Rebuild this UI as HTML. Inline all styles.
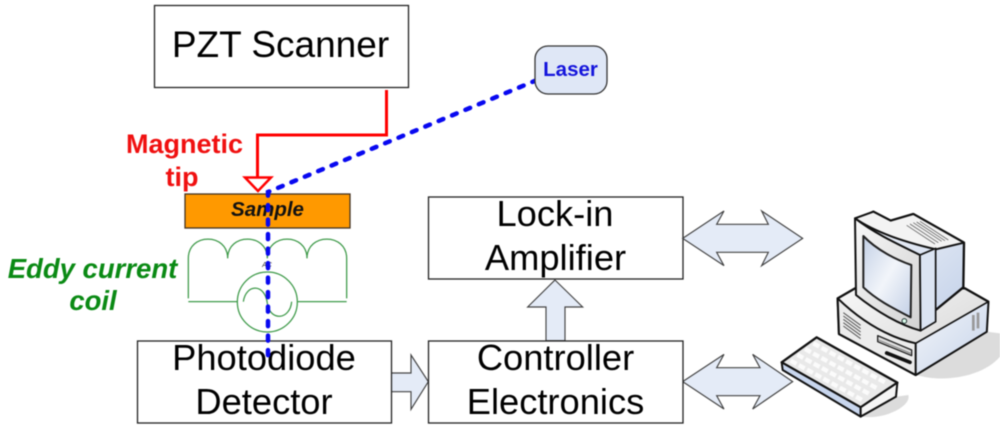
<!DOCTYPE html>
<html>
<head>
<meta charset="utf-8">
<style>
html,body{margin:0;padding:0;background:#fff}
svg{display:block;filter:blur(.4px)}
text{font-family:"Liberation Sans",sans-serif}
</style>
</head>
<body>
<svg width="1000" height="430" viewBox="0 0 1000 430" xmlns="http://www.w3.org/2000/svg">
<defs>
<linearGradient id="scr" x1="0" y1="0" x2="1" y2="1"><stop offset="0" stop-color="#c3d0e6"/><stop offset=".5" stop-color="#f2f5fa"/><stop offset="1" stop-color="#c3d0e6"/></linearGradient>
<linearGradient id="bl" x1="0" y1="0" x2="1" y2="1"><stop offset="0" stop-color="#f4f6fa"/><stop offset="1" stop-color="#c5d3ea"/></linearGradient>
<linearGradient id="gr" x1="0" y1="0" x2="1" y2="1"><stop offset="0" stop-color="#f8f8f8"/><stop offset="1" stop-color="#d2d2d2"/></linearGradient>
</defs>

<!-- boxes -->
<g fill="#fff" stroke="#222" stroke-width="1.3">
<rect x="154.500" y="5.500" width="254" height="82"/>
<rect x="428.500" y="197" width="254.500" height="82"/>
</g>

<!-- block arrows -->
<g transform="translate(380,200) scale(.33333)" fill="#e4ebf7" stroke="#444" stroke-width="3.500" stroke-linejoin="miter">
<polygon points="908,115 1032,33 1010,73 1165,73 1145,33 1268,115 1145,197 1165,157 1010,157 1032,197"/>
<polygon points="908,545 1032,463 1010,503 1140,503 1118,463 1238,545 1118,627 1140,587 1010,587 1032,627"/>
<polygon points="525,240 608,321 555,321 555,422 498,422 498,321 443,321"/>
<polygon points="32,519 93,519 93,465 145,545 93,628 93,575 32,575"/>
</g>

<g fill="#fff" stroke="#222" stroke-width="1.3">
<rect x="137.500" y="341" width="254" height="82"/>
<rect x="428.500" y="341" width="254.500" height="82"/>
</g>

<!-- box labels -->
<text x="280.500" y="57" font-size="37" fill="#000" text-anchor="middle">PZT Scanner</text>
<g font-size="36.300" fill="#000" text-anchor="middle">
<text x="555" y="226">Lock-in</text>
<text x="555.500" y="270">Amplifier</text>
<text x="264" y="370">Photodiode</text>
<text x="264" y="414">Detector</text>
<text x="555.500" y="370">Controller</text>
<text x="555.500" y="414">Electronics</text>
</g>

<!-- red tip -->
<path d="M386.500,90 V135 H257.500 V177" fill="none" stroke="#f00" stroke-width="3"/>
<polygon points="245,177.500 271,177.500 258,191" fill="#fff" stroke="#f00" stroke-width="2.500"/>
<g font-size="27" font-weight="bold" fill="#f01010" text-anchor="middle">
<text x="184.500" y="153">Magnetic</text>
<text x="182" y="186">tip</text>
</g>

<!-- sample -->
<rect x="185" y="194" width="165" height="34" fill="#ff9900" stroke="#443322" stroke-width="1.300"/>
<text x="267.500" y="216" font-size="20.500" font-weight="bold" font-style="italic" fill="#111" text-anchor="middle">Sample</text>

<!-- coil -->
<g transform="translate(120,120) scale(.33333)" fill="none" stroke="#3f9a4a" stroke-width="3.800">
<path d="M205,535 V415 C205,338 323,338 323,415 C323,338 442,338 442,415 C442,338 561,338 561,415 C561,338 680,338 680,415 V535"/>
<path d="M205,545 H352 M532,545 H680"/>
<circle cx="442" cy="546" r="90"/>
<path d="M370,545 C378,490 435,490 442,550 C450,605 510,600 515,545"/>
</g>
<text x="267" y="267" font-size="7" font-style="italic" fill="#333" text-anchor="middle">AC</text>

<!-- laser -->
<path d="M537,80 L268,192 V356" fill="none" stroke="#0808f0" stroke-width="4.500" stroke-dasharray="5 9.500" stroke-linecap="round"/>
<rect x="535" y="46" width="72" height="48" rx="13" fill="#dfe7f6" stroke="#333" stroke-width="1.300"/>
<text x="570.500" y="76" font-size="20.500" font-weight="bold" fill="#1414dc" text-anchor="middle">Laser</text>

<!-- eddy -->
<g font-size="27.500" font-weight="bold" font-style="italic" fill="#0a8a14" text-anchor="middle">
<text x="92.500" y="278">Eddy current</text>
<text x="93" y="310">coil</text>
</g>

<!-- computer -->
<g transform="translate(770,200) scale(.33333)" stroke-linejoin="round">
<path d="M440,525 L650,395 L690,400 V470 C640,530 520,550 440,525Z" fill="#dcdcdc"/>
<path d="M275,650 L380,590 L415,585 C425,620 340,660 275,650Z" fill="#dcdcdc"/>
<!-- base -->
<path d="M203,295 L255,265 L585,265 L655,305 L650,395 L437,525 L207,402Z" fill="url(#gr)" stroke="#111" stroke-width="7"/>
<path d="M437,430 L655,305 L650,395 L437,525Z" fill="url(#bl)" stroke="#111" stroke-width="5"/>
<path d="M203,295 C270,360 350,410 437,430 L437,525 L207,402Z" fill="#ececec" stroke="#111" stroke-width="6"/>
<g stroke="#555" stroke-width="3" fill="none">
<path d="M220,338 L272,376 M220,348 L272,386 M220,358 L272,396 M220,368 L272,406 M220,378 L272,416"/>
</g>
<polygon points="323,407 425,450 425,467 323,425" fill="#ddd" stroke="#222" stroke-width="4"/>
<path d="M326,420 L422,460" stroke="#555" stroke-width="2"/>
<path d="M350,459 L420,487" stroke="#111" stroke-width="11" stroke-linecap="round"/>
<path d="M610,345 V392 M624,338 V385" stroke="#999" stroke-width="8"/>
<!-- monitor -->
<path d="M310,35 L362,62 L430,42 L582,128 L580,262 L497,330 L450,300 L260,60Z" fill="url(#bl)" stroke="#111" stroke-width="7"/>
<path d="M255,55 L310,35 L362,62 L430,42 L582,128 L498,148 C420,130 320,100 255,55Z" fill="#f3f3f3" stroke="#111" stroke-width="6"/>
<g stroke="#666" stroke-width="2.500"><path d="M410,76 L495,132 M420,72 L505,128 M430,68 L515,124 M440,66 L525,122 M450,64 L535,120"/></g>
<path d="M255,55 C320,105 400,140 450,165 L452,392 C390,375 320,335 258,285Z" fill="url(#gr)" stroke="#111" stroke-width="6"/>
<path d="M450,165 L497,145 V365 L452,392Z" fill="#dbe4f2" stroke="#111" stroke-width="5"/>
<path d="M280,108 C320,150 380,180 424,195 L422,352 C370,325 320,300 280,262Z" fill="url(#scr)" stroke="#222" stroke-width="6"/>
<circle cx="403" cy="363" r="7" fill="#dfe" stroke="#233" stroke-width="3"/>
<!-- keyboard -->
<path d="M35,487 L140,412 L382,548 L272,622Z" fill="#e9e9e9" stroke="#111" stroke-width="7"/>
<path d="M35,487 L272,622 L272,650 L38,510Z" fill="#c8d6ee" stroke="#111" stroke-width="6"/>
<path d="M272,622 L382,548 L378,590 L272,650Z" fill="#f5f5f5" stroke="#111" stroke-width="6"/>
<g stroke="#fbfbfb" stroke-width="13" stroke-dasharray="20 8" fill="none">
<path d="M130,430 L350,550"/><path d="M105,447 L325,567"/><path d="M82,464 L302,584"/><path d="M62,482 L280,602"/>
</g>
</g>
</svg>
</body>
</html>
